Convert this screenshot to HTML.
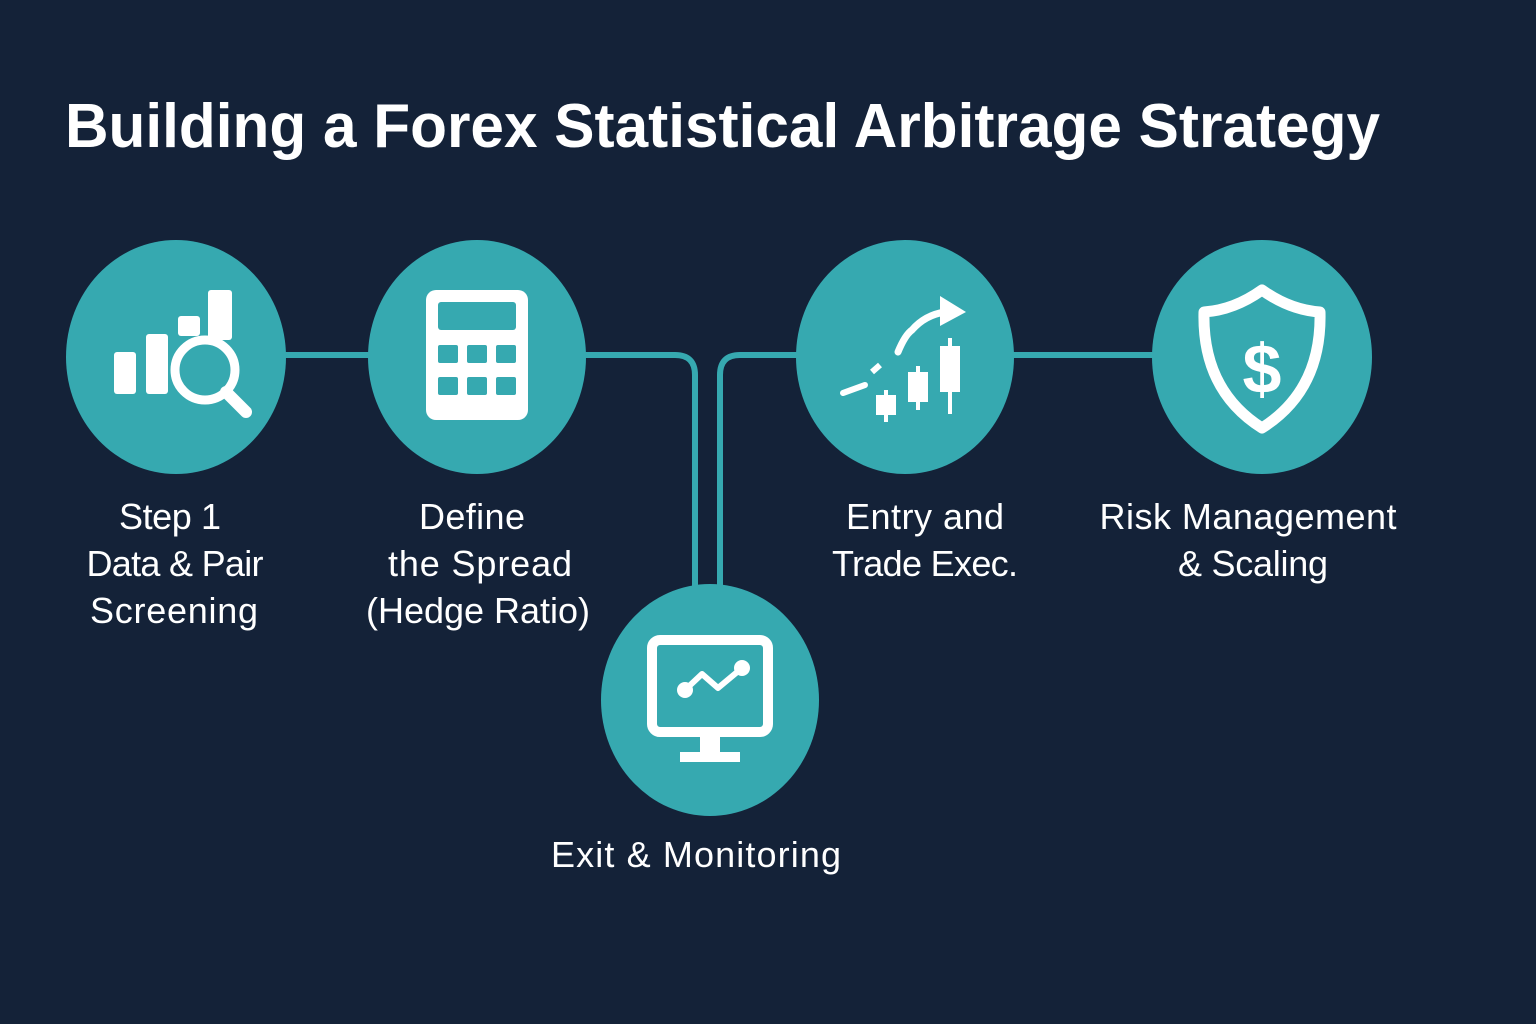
<!DOCTYPE html>
<html><head><meta charset="utf-8"><style>
html,body{margin:0;padding:0;background:#142238;}
svg{display:block}
text{font-family:"Liberation Sans",sans-serif;fill:#fff}
</style></head><body>
<svg width="1536" height="1024" viewBox="0 0 1536 1024" xmlns="http://www.w3.org/2000/svg">
<rect width="1536" height="1024" fill="#142238"/>
<text x="65" y="147" font-size="62" font-weight="bold" textLength="1315" lengthAdjust="spacingAndGlyphs">Building a Forex Statistical Arbitrage Strategy</text>
<g stroke="#36a9b0" stroke-width="6" fill="none">
<line x1="280" y1="355" x2="375" y2="355"/>
<path d="M580 355 H675 Q695 355 695 375 V590"/>
<path d="M802 355 H740 Q720 355 720 375 V590"/>
<line x1="1008" y1="355" x2="1158" y2="355"/>
</g>
<g fill="#36a9b0">
<ellipse cx="176" cy="357" rx="110" ry="117"/>
<ellipse cx="477" cy="357" rx="109" ry="117"/>
<ellipse cx="710" cy="700" rx="109" ry="116"/>
<ellipse cx="905" cy="357" rx="109" ry="117"/>
<ellipse cx="1262" cy="357" rx="110" ry="117"/>
</g>
<g fill="#fff">
<rect x="114" y="352" width="22" height="42" rx="3"/>
<rect x="146" y="334" width="22" height="60" rx="3"/>
<rect x="178" y="316" width="22" height="20" rx="3"/>
<rect x="208" y="290" width="24" height="50" rx="3"/>
</g>
<circle cx="205" cy="370" r="30" fill="#36a9b0" stroke="#fff" stroke-width="9"/>
<line x1="226" y1="392" x2="246" y2="412" stroke="#fff" stroke-width="12" stroke-linecap="round"/>
<rect x="426" y="290" width="102" height="130" rx="10" fill="#fff"/>
<rect x="438" y="302" width="78" height="28" rx="3" fill="#36a9b0"/>
<g fill="#36a9b0">
<rect x="438" y="345" width="20" height="18" rx="2"/><rect x="467" y="345" width="20" height="18" rx="2"/><rect x="496" y="345" width="20" height="18" rx="2"/>
<rect x="438" y="377" width="20" height="18" rx="2"/><rect x="467" y="377" width="20" height="18" rx="2"/><rect x="496" y="377" width="20" height="18" rx="2"/>
</g>
<g stroke="#fff" stroke-width="4" fill="#fff">
<path d="M843 393 L865 385" fill="none" stroke-width="6" stroke-linecap="round"/>
<line x1="886" y1="390" x2="886" y2="422"/><rect x="878" y="397" width="16" height="16"/>
<line x1="918" y1="366" x2="918" y2="410"/><rect x="910" y="374" width="16" height="26"/>
<line x1="950" y1="338" x2="950" y2="414"/><rect x="942" y="348" width="16" height="42"/>
<path d="M872 372 L880 365" fill="none" stroke-width="6"/>
<path d="M898 352 Q905 335 912 330 Q925 315 945 312" fill="none" stroke-width="7" stroke-linecap="round"/>
</g>
<polygon points="940,296 966,312 940,326" fill="#fff"/>
<path d="M1262 290 Q1290 310 1320 312 Q1322 390 1262 428 Q1202 390 1204 312 Q1234 310 1262 290 Z" fill="none" stroke="#fff" stroke-width="11" stroke-linejoin="round"/>
<text x="1262" y="393" font-size="70" font-weight="bold" text-anchor="middle">$</text>
<rect x="652" y="640" width="116" height="92" rx="8" fill="none" stroke="#fff" stroke-width="10"/>
<rect x="700" y="735" width="20" height="20" fill="#fff"/>
<rect x="680" y="752" width="60" height="10" fill="#fff"/>
<polyline points="685,690 702,674 718,688 742,668" fill="none" stroke="#fff" stroke-width="6" stroke-linejoin="round"/>
<circle cx="685" cy="690" r="8" fill="#fff"/><circle cx="742" cy="668" r="8" fill="#fff"/>
<g font-size="36" text-anchor="middle" lengthAdjust="spacingAndGlyphs">
<text x="170" y="529" textLength="102">Step 1</text>
<text x="175" y="576" textLength="177">Data &amp; Pair</text>
<text x="174" y="623" textLength="168">Screening</text>
<text x="472" y="529" textLength="106">Define</text>
<text x="480" y="576" textLength="184">the Spread</text>
<text x="478" y="623" textLength="224">(Hedge Ratio)</text>
<text x="925" y="529" textLength="158">Entry and</text>
<text x="925" y="576" textLength="186">Trade Exec.</text>
<text x="1248" y="529" textLength="297">Risk Management</text>
<text x="1253" y="576" textLength="150">&amp; Scaling</text>
<text x="696" y="867" textLength="290">Exit &amp; Monitoring</text>
</g>
</svg>
</body></html>
